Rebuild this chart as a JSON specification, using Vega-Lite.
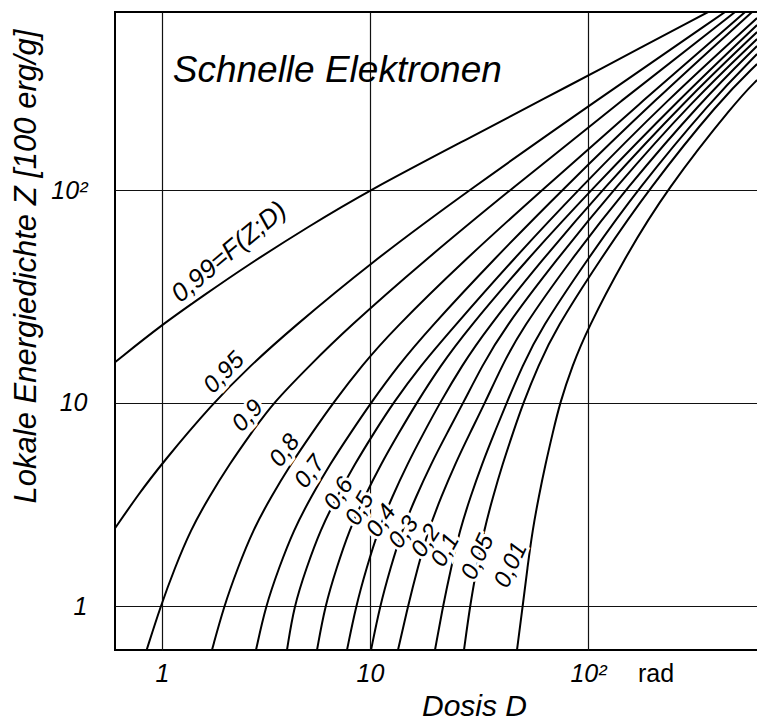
{
  "$schema": "https://vega.github.io/schema/vega-lite/v6.json",
  "width": 644,
  "height": 638,
  "autosize": {"type": "none"},
  "padding": {"left": 115, "top": 12, "right": 0, "bottom": 73},
  "background": "white",
  "config": {"view": {"stroke": "black", "strokeWidth": 2}, "font": "Liberation Sans"},
  "datasets": {
    "curves": [
      {"F": "0.99", "D": 0.6015, "Z": 15.5}, {"F": "0.99", "D": 1, "Z": 23.3}, {"F": "0.99", "D": 1.6, "Z": 32.1}, {"F": "0.99", "D": 2.46, "Z": 43}, {"F": "0.99", "D": 5.1, "Z": 67.7}, {"F": "0.99", "D": 10, "Z": 100}, {"F": "0.99", "D": 25.9, "Z": 168.7}, {"F": "0.99", "D": 69.3, "Z": 290}, {"F": "0.99", "D": 100, "Z": 354.8}, {"F": "0.99", "D": 365.9, "Z": 717.6},
      {"F": "0.95", "D": 0.6015, "Z": 2.411}, {"F": "0.95", "D": 0.7707, "Z": 3.516}, {"F": "0.95", "D": 1, "Z": 5.033}, {"F": "0.95", "D": 1.765, "Z": 10}, {"F": "0.95", "D": 2.649, "Z": 14.88}, {"F": "0.95", "D": 4.125, "Z": 21.97}, {"F": "0.95", "D": 10, "Z": 45.23}, {"F": "0.95", "D": 28.46, "Z": 100}, {"F": "0.95", "D": 110.2, "Z": 270.8}, {"F": "0.95", "D": 439.8, "Z": 717.6},
      {"F": "0.9", "D": 0.847, "Z": 0.6143}, {"F": "0.9", "D": 0.9857, "Z": 1}, {"F": "0.9", "D": 1.152, "Z": 1.538}, {"F": "0.9", "D": 1.371, "Z": 2.365}, {"F": "0.9", "D": 1.684, "Z": 3.437}, {"F": "0.9", "D": 2.113, "Z": 4.995}, {"F": "0.9", "D": 2.687, "Z": 7.096}, {"F": "0.9", "D": 3.428, "Z": 10}, {"F": "0.9", "D": 5.108, "Z": 14.88}, {"F": "0.9", "D": 7.625, "Z": 21.97}, {"F": "0.9", "D": 17.88, "Z": 46.88}, {"F": "0.9", "D": 43.87, "Z": 100}, {"F": "0.9", "D": 144.4, "Z": 270.8}, {"F": "0.9", "D": 489.8, "Z": 717.6},
      {"F": "0.8", "D": 1.739, "Z": 0.6143}, {"F": "0.8", "D": 1.987, "Z": 1}, {"F": "0.8", "D": 2.312, "Z": 1.538}, {"F": "0.8", "D": 2.738, "Z": 2.365}, {"F": "0.8", "D": 3.342, "Z": 3.437}, {"F": "0.8", "D": 4.166, "Z": 4.995}, {"F": "0.8", "D": 5.262, "Z": 7.096}, {"F": "0.8", "D": 6.663, "Z": 10}, {"F": "0.8", "D": 9.093, "Z": 14.88}, {"F": "0.8", "D": 12.75, "Z": 21.97}, {"F": "0.8", "D": 27.1, "Z": 46.88}, {"F": "0.8", "D": 61.5, "Z": 100}, {"F": "0.8", "D": 182.6, "Z": 270.8}, {"F": "0.8", "D": 545.9, "Z": 717.6},
      {"F": "0.7", "D": 2.831, "Z": 0.6143}, {"F": "0.7", "D": 3.151, "Z": 1}, {"F": "0.7", "D": 3.648, "Z": 1.538}, {"F": "0.7", "D": 4.293, "Z": 2.365}, {"F": "0.7", "D": 5.203, "Z": 3.437}, {"F": "0.7", "D": 6.431, "Z": 4.995}, {"F": "0.7", "D": 8.06, "Z": 7.096}, {"F": "0.7", "D": 10.11, "Z": 10}, {"F": "0.7", "D": 13.41, "Z": 14.88}, {"F": "0.7", "D": 18.46, "Z": 21.97}, {"F": "0.7", "D": 36.7, "Z": 46.88}, {"F": "0.7", "D": 75.97, "Z": 100}, {"F": "0.7", "D": 205.7, "Z": 270.8}, {"F": "0.7", "D": 588.8, "Z": 717.6},
      {"F": "0.6", "D": 3.99, "Z": 0.6143}, {"F": "0.6", "D": 4.312, "Z": 1}, {"F": "0.6", "D": 4.946, "Z": 1.538}, {"F": "0.6", "D": 5.768, "Z": 2.365}, {"F": "0.6", "D": 6.918, "Z": 3.437}, {"F": "0.6", "D": 8.452, "Z": 4.995}, {"F": "0.6", "D": 10.42, "Z": 7.096}, {"F": "0.6", "D": 12.79, "Z": 10}, {"F": "0.6", "D": 17.03, "Z": 14.88}, {"F": "0.6", "D": 23.53, "Z": 21.97}, {"F": "0.6", "D": 45.09, "Z": 46.88}, {"F": "0.6", "D": 89.97, "Z": 100}, {"F": "0.6", "D": 234.9, "Z": 270.8}, {"F": "0.6", "D": 621.5, "Z": 671.4},
      {"F": "0.5", "D": 5.563, "Z": 0.6143}, {"F": "0.5", "D": 6.076, "Z": 1}, {"F": "0.5", "D": 6.903, "Z": 1.538}, {"F": "0.5", "D": 7.953, "Z": 2.365}, {"F": "0.5", "D": 9.4, "Z": 3.437}, {"F": "0.5", "D": 11.24, "Z": 4.995}, {"F": "0.5", "D": 13.56, "Z": 7.096}, {"F": "0.5", "D": 16.38, "Z": 10}, {"F": "0.5", "D": 21.01, "Z": 14.88}, {"F": "0.5", "D": 27.86, "Z": 21.97}, {"F": "0.5", "D": 52.23, "Z": 46.88}, {"F": "0.5", "D": 103.3, "Z": 100}, {"F": "0.5", "D": 265.4, "Z": 270.8}, {"F": "0.5", "D": 621.5, "Z": 621.4},
      {"F": "0.4", "D": 7.753, "Z": 0.6143}, {"F": "0.4", "D": 8.564, "Z": 1}, {"F": "0.4", "D": 9.621, "Z": 1.538}, {"F": "0.4", "D": 10.92, "Z": 2.365}, {"F": "0.4", "D": 12.63, "Z": 3.437}, {"F": "0.4", "D": 14.84, "Z": 4.995}, {"F": "0.4", "D": 17.62, "Z": 7.096}, {"F": "0.4", "D": 20.95, "Z": 10}, {"F": "0.4", "D": 26.32, "Z": 14.88}, {"F": "0.4", "D": 34.05, "Z": 21.97}, {"F": "0.4", "D": 61.5, "Z": 46.88}, {"F": "0.4", "D": 116.3, "Z": 100}, {"F": "0.4", "D": 287.5, "Z": 270.8}, {"F": "0.4", "D": 621.5, "Z": 575.0},
      {"F": "0.3", "D": 10.11, "Z": 0.6143}, {"F": "0.3", "D": 11.11, "Z": 1}, {"F": "0.3", "D": 12.41, "Z": 1.538}, {"F": "0.3", "D": 14.04, "Z": 2.365}, {"F": "0.3", "D": 16.23, "Z": 3.437}, {"F": "0.3", "D": 19.05, "Z": 4.995}, {"F": "0.3", "D": 22.58, "Z": 7.096}, {"F": "0.3", "D": 26.79, "Z": 10}, {"F": "0.3", "D": 32.65, "Z": 14.88}, {"F": "0.3", "D": 40.74, "Z": 21.97}, {"F": "0.3", "D": 71.47, "Z": 46.88}, {"F": "0.3", "D": 131.1, "Z": 100}, {"F": "0.3", "D": 311.5, "Z": 270.8}, {"F": "0.3", "D": 621.5, "Z": 532.1},
      {"F": "0.2", "D": 13.44, "Z": 0.6143}, {"F": "0.2", "D": 14.94, "Z": 1}, {"F": "0.2", "D": 16.53, "Z": 1.538}, {"F": "0.2", "D": 18.53, "Z": 2.365}, {"F": "0.2", "D": 21.2, "Z": 3.437}, {"F": "0.2", "D": 24.57, "Z": 4.995}, {"F": "0.2", "D": 28.75, "Z": 7.096}, {"F": "0.2", "D": 33.7, "Z": 10}, {"F": "0.2", "D": 40.27, "Z": 14.88}, {"F": "0.2", "D": 49.28, "Z": 21.97}, {"F": "0.2", "D": 83.3, "Z": 46.88}, {"F": "0.2", "D": 149.2, "Z": 100}, {"F": "0.2", "D": 344.5, "Z": 270.8}, {"F": "0.2", "D": 621.5, "Z": 492.4},
      {"F": "0.1", "D": 19.87, "Z": 0.6143}, {"F": "0.1", "D": 21.62, "Z": 1}, {"F": "0.1", "D": 23.53, "Z": 1.538}, {"F": "0.1", "D": 25.85, "Z": 2.365}, {"F": "0.1", "D": 28.87, "Z": 3.437}, {"F": "0.1", "D": 32.65, "Z": 4.995}, {"F": "0.1", "D": 37.17, "Z": 7.096}, {"F": "0.1", "D": 42.38, "Z": 10}, {"F": "0.1", "D": 50.02, "Z": 14.88}, {"F": "0.1", "D": 60.24, "Z": 21.97}, {"F": "0.1", "D": 98.85, "Z": 46.88}, {"F": "0.1", "D": 169.8, "Z": 100}, {"F": "0.1", "D": 380.9, "Z": 270.8}, {"F": "0.1", "D": 621.5, "Z": 450.7},
      {"F": "0.05", "D": 26.99, "Z": 0.6143}, {"F": "0.05", "D": 28.75, "Z": 1}, {"F": "0.05", "D": 30.86, "Z": 1.538}, {"F": "0.05", "D": 33.38, "Z": 2.365}, {"F": "0.05", "D": 36.63, "Z": 3.437}, {"F": "0.05", "D": 40.58, "Z": 4.995}, {"F": "0.05", "D": 45.24, "Z": 7.096}, {"F": "0.05", "D": 50.49, "Z": 10}, {"F": "0.05", "D": 59.11, "Z": 14.88}, {"F": "0.05", "D": 70.56, "Z": 21.97}, {"F": "0.05", "D": 113.6, "Z": 46.88}, {"F": "0.05", "D": 191.3, "Z": 100}, {"F": "0.05", "D": 416.7, "Z": 270.8}, {"F": "0.05", "D": 621.5, "Z": 403.5},
      {"F": "0.01", "D": 47.24, "Z": 0.6143}, {"F": "0.01", "D": 50.18, "Z": 1}, {"F": "0.01", "D": 52.72, "Z": 1.538}, {"F": "0.01", "D": 55.69, "Z": 2.365}, {"F": "0.01", "D": 59.41, "Z": 3.437}, {"F": "0.01", "D": 63.83, "Z": 4.995}, {"F": "0.01", "D": 68.88, "Z": 7.096}, {"F": "0.01", "D": 74.39, "Z": 10}, {"F": "0.01", "D": 84.64, "Z": 14.88}, {"F": "0.01", "D": 98.94, "Z": 21.97}, {"F": "0.01", "D": 146.6, "Z": 46.88}, {"F": "0.01", "D": 232.3, "Z": 100}, {"F": "0.01", "D": 500.5, "Z": 270.8}, {"F": "0.01", "D": 621.5, "Z": 338.0}
    ],
    "labels": [
      {"label": "0,99=F(Z;D)", "D": 2.1, "Z": 51},
      {"label": "0,95", "D": 1.99, "Z": 13.8},
      {"label": "0,9", "D": 2.59, "Z": 8.6},
      {"label": "0,8", "D": 3.9, "Z": 5.8},
      {"label": "0,7", "D": 5.15, "Z": 4.56},
      {"label": "0,6", "D": 7.1, "Z": 3.56},
      {"label": "0,5", "D": 8.95, "Z": 3.0},
      {"label": "0,4", "D": 11.3, "Z": 2.62},
      {"label": "0,3", "D": 14.3, "Z": 2.3},
      {"label": "0,2", "D": 18.1, "Z": 2.09},
      {"label": "0,1", "D": 22.2, "Z": 1.88},
      {"label": "0,05", "D": 31.3, "Z": 1.74},
      {"label": "0,01", "D": 44.4, "Z": 1.59}
    ]
  },
  "layer": [
    {
      "data": {"name": "curves"},
      "mark": {"type": "line", "color": "black", "strokeWidth": 2, "interpolate": "basis", "clip": true},
      "encoding": {
        "x": {
          "field": "D", "type": "quantitative",
          "scale": {"type": "log", "domain": [0.6015, 1, 10, 100, 634.5], "range": [0, 47, 255, 473, 644], "nice": false, "zero": false},
          "axis": {
            "values": [1, 10, 100],
            "labelExpr": "datum.value > 50 ? '10²' : datum.value > 5 ? '10' : '1'",
            "grid": true, "gridColor": "#111111", "gridWidth": 1.2,
            "ticks": false, "tickSize": 0, "domain": false,
            "labelFont": "Liberation Sans", "labelFontSize": 25, "labelFontStyle": "italic",
            "labelColor": "black", "labelPadding": 11, "labelFlush": false, "labelOverlap": false,
            "title": "Dosis  D", "titleFont": "Liberation Sans", "titleFontSize": 30, "titleFontStyle": "italic",
            "titleFontWeight": "normal", "titleColor": "black",
            "titleX": 359, "titleY": 65, "titleBaseline": "alphabetic", "titleAlign": "center"
          }
        },
        "y": {
          "field": "Z", "type": "quantitative",
          "scale": {"type": "log", "domain": [0.6143, 1, 10, 100, 717.6], "range": [638, 594, 390.7, 178, 0], "nice": false, "zero": false},
          "axis": {
            "values": [1, 10, 100],
            "labelExpr": "datum.value > 50 ? '10²' : datum.value > 5 ? '10' : '1'",
            "grid": true, "gridColor": "#111111", "gridWidth": 1.2,
            "ticks": false, "tickSize": 0, "domain": false,
            "labelFont": "Liberation Sans", "labelFontSize": 25, "labelFontStyle": "italic",
            "labelColor": "black", "labelPadding": 28, "labelBaseline": "middle", "labelFlush": false, "labelOverlap": false,
            "title": "Lokale  Energiedichte  Z  [100 erg/g]", "titleFont": "Liberation Sans", "titleFontSize": 31,
            "titleFontStyle": "italic", "titleFontWeight": "normal", "titleColor": "black",
            "titleAngle": 270, "titleX": -80, "titleY": 254, "titleBaseline": "alphabetic", "titleAlign": "center"
          }
        },
        "detail": {"field": "F", "type": "nominal"}
      }
    },
    {
      "data": {"name": "labels"},
      "mark": {"type": "text", "stroke": "white", "strokeWidth": 6, "fill": "white", "fontStyle": "italic",
               "font": "Liberation Sans", "align": "center", "baseline": "middle"},
      "encoding": {
        "x": {"field": "D", "type": "quantitative", "scale": {"type": "log", "domain": [0.6015, 1, 10, 100, 634.5], "range": [0, 47, 255, 473, 644], "nice": false, "zero": false}},
        "y": {"field": "Z", "type": "quantitative", "scale": {"type": "log", "domain": [0.6143, 1, 10, 100, 717.6], "range": [638, 594, 390.7, 178, 0], "nice": false, "zero": false}},
        "text": {"field": "label"},
        "size": {"condition": {"test": "datum.label == '0,99=F(Z;D)'", "value": 26}, "value": 24},
        "angle": {"field": "label", "type": "nominal", "legend": null,
          "scale": {"type": "ordinal",
            "domain": ["0,99=F(Z;D)", "0,95", "0,9", "0,8", "0,7", "0,6", "0,5", "0,4", "0,3", "0,2", "0,1", "0,05", "0,01"],
            "range": [320, 314, 313, 307, 307, 303, 300, 304, 306, 303, 299, 295, 295]}}
      }
    },
    {
      "data": {"name": "labels"},
      "mark": {"type": "text", "fill": "black", "fontStyle": "italic",
               "font": "Liberation Sans", "align": "center", "baseline": "middle"},
      "encoding": {
        "x": {"field": "D", "type": "quantitative", "scale": {"type": "log", "domain": [0.6015, 1, 10, 100, 634.5], "range": [0, 47, 255, 473, 644], "nice": false, "zero": false}},
        "y": {"field": "Z", "type": "quantitative", "scale": {"type": "log", "domain": [0.6143, 1, 10, 100, 717.6], "range": [638, 594, 390.7, 178, 0], "nice": false, "zero": false}},
        "text": {"field": "label"},
        "size": {"condition": {"test": "datum.label == '0,99=F(Z;D)'", "value": 26}, "value": 24},
        "angle": {"field": "label", "type": "nominal", "legend": null,
          "scale": {"type": "ordinal",
            "domain": ["0,99=F(Z;D)", "0,95", "0,9", "0,8", "0,7", "0,6", "0,5", "0,4", "0,3", "0,2", "0,1", "0,05", "0,01"],
            "range": [320, 314, 313, 307, 307, 303, 300, 304, 306, 303, 299, 295, 295]}}
      }
    },
    {
      "data": {"values": [{"t": "Schnelle  Elektronen", "D": 1.126, "Z": 330.7}]},
      "mark": {"type": "text", "align": "left", "baseline": "alphabetic", "fontSize": 37, "fontStyle": "italic", "font": "Liberation Sans", "fill": "black"},
      "encoding": {
        "x": {"field": "D", "type": "quantitative", "scale": {"type": "log", "domain": [0.6015, 1, 10, 100, 634.5], "range": [0, 47, 255, 473, 644], "nice": false, "zero": false}},
        "y": {"field": "Z", "type": "quantitative", "scale": {"type": "log", "domain": [0.6143, 1, 10, 100, 717.6], "range": [638, 594, 390.7, 178, 0], "nice": false, "zero": false}},
        "text": {"field": "t"}
      }
    },
    {
      "data": {"values": [{"t": "rad", "D": 171.7, "Z": 0.431}]},
      "mark": {"type": "text", "align": "left", "baseline": "alphabetic", "fontSize": 25, "font": "Liberation Sans", "fill": "black"},
      "encoding": {
        "x": {"field": "D", "type": "quantitative", "scale": {"type": "log", "domain": [0.6015, 1, 10, 100, 634.5], "range": [0, 47, 255, 473, 644], "nice": false, "zero": false}},
        "y": {"field": "Z", "type": "quantitative", "scale": {"type": "log", "domain": [0.6143, 1, 10, 100, 717.6], "range": [638, 594, 390.7, 178, 0], "nice": false, "zero": false}},
        "text": {"field": "t"}
      }
    }
  ]
}
